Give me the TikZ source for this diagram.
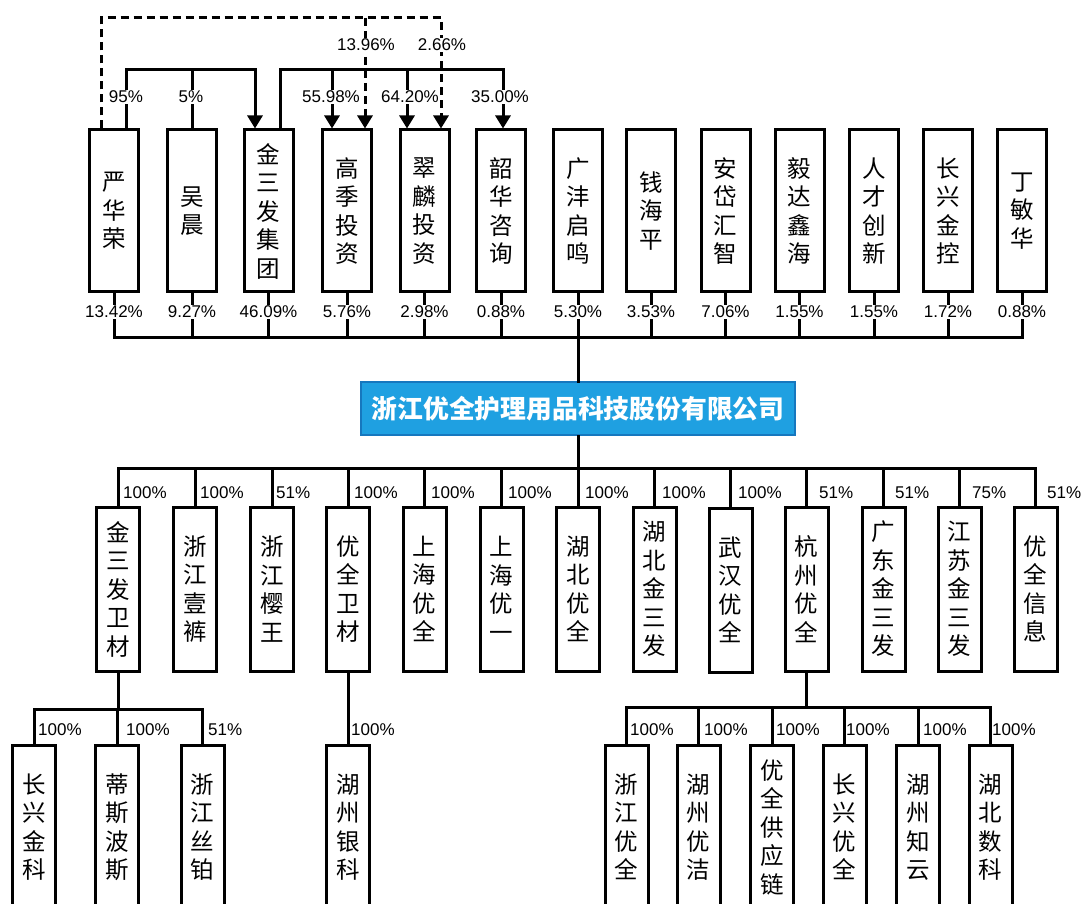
\documentclass[tikz,border=0pt]{standalone}
\usepackage{fontspec}
\setmainfont{Liberation Sans}
\newfontfamily\cjk{Noto Sans CJK SC}
\usetikzlibrary{arrows.meta}
\definecolor{mainfill}{RGB}{31,160,225}
\definecolor{mainborder}{RGB}{22,119,190}
\tikzset{
 ent/.style={draw, line width=3pt, fill=white, inner sep=0pt, align=center, font=\cjk\fontsize{23.5}{28.5}\selectfont},
 topbox/.style={ent, minimum width=49pt, minimum height=162pt},
 subbox/.style={ent, minimum width=43pt, minimum height=164pt},
 ln/.style={line width=3pt, line cap=rect},
 dln/.style={line width=3pt, dash pattern=on 8pt off 5pt, line join=miter},
 arr/.style={-{Triangle[width=15pt,length=13pt]}},
 pct/.style={font=\fontsize{17}{19}\selectfont, inner sep=1pt},
 pctw/.style={pct, fill=white},
 pctl/.style={pct, anchor=west, inner sep=0pt},
 mainbox/.style={draw=mainborder, fill=mainfill, line width=2pt, minimum width=434pt, minimum height=53pt, text=white, font=\cjk\bfseries\fontsize{25.8}{30}\selectfont, inner sep=0pt}
}
\begin{document}
\begin{tikzpicture}[x=1pt,y=-1pt]
\useasboundingbox (0,0) rectangle (1085,904);
\clip (0,0) rectangle (1085,904);
\fill[white] (0,0) rectangle (1085,904);
% top row
\node[topbox] (yhr) at (114,211) {严\\华\\荣};
\node[topbox] (wc) at (192,211) {吴\\晨};
\node[topbox] (jsf) at (268.5,211) {金\\三\\发\\集\\团};
\node[topbox] (gjtz) at (347,211) {高\\季\\投\\资};
\node[topbox] (cltz) at (424.5,211) {翠\\麟\\投\\资};
\node[topbox] (shzx) at (501,211) {韶\\华\\咨\\询};
\node[topbox] (gfqm) at (578,211) {广\\沣\\启\\鸣};
\node[topbox] (qhp) at (651,211) {钱\\海\\平};
\node[topbox] (adhz) at (725.5,211) {安\\岱\\汇\\智};
\node[topbox] (ydxh) at (799.5,211) {毅\\达\\鑫\\海};
\node[topbox] (rccx) at (874,211) {人\\才\\创\\新};
\node[topbox] (cxjkong) at (948,211) {长\\兴\\金\\控};
\node[topbox] (dmh) at (1022,211) {丁\\敏\\华};
% main
\node[mainbox] (main) at (578,408.5) {浙江优全护理用品科技股份有限公司};
% second row
\node[subbox] (jsfwc) at (118,589) {金\\三\\发\\卫\\材};
\node[subbox] (zjyk) at (195,589) {浙\\江\\壹\\裤};
\node[subbox] (zjyw) at (272,589) {浙\\江\\樱\\王};
\node[subbox] (yqwc) at (348,589) {优\\全\\卫\\材};
\node[subbox] (shyq) at (424.5,589) {上\\海\\优\\全};
\node[subbox] (shyy) at (501.5,589) {上\\海\\优\\一};
\node[subbox] (hbyq) at (578,589) {湖\\北\\优\\全};
\node[subbox] (hbjsf) at (654.5,589) {湖\\北\\金\\三\\发};
\node[subbox] (whyq) at (730.5,590) {武\\汉\\优\\全};
\node[subbox] (hzyq) at (806.5,589) {杭\\州\\优\\全};
\node[subbox] (gdjsf) at (883.5,589) {广\\东\\金\\三\\发};
\node[subbox] (jsjsf) at (959.5,589) {江\\苏\\金\\三\\发};
\node[subbox] (yqxx) at (1035.5,589) {优\\全\\信\\息};
% third row
\node[subbox] (cxjk) at (34,827) {长\\兴\\金\\科};
\node[subbox] (tsbs) at (117,827) {蒂\\斯\\波\\斯};
\node[subbox] (zjsb) at (202.5,827) {浙\\江\\丝\\铂};
\node[subbox] (hzyk) at (348,827) {湖\\州\\银\\科};
\node[subbox] (zjyq) at (626.5,827) {浙\\江\\优\\全};
\node[subbox] (hzyj) at (698.5,827) {湖\\州\\优\\洁};
\node[subbox] (yqgyl) at (772,827) {优\\全\\供\\应\\链};
\node[subbox] (cxyq) at (844.5,827) {长\\兴\\优\\全};
\node[subbox] (hzzy) at (918,827) {湖\\州\\知\\云};
\node[subbox] (hbsk) at (990.5,827) {湖\\北\\数\\科};
\coordinate (bus1) at (578,337);
\coordinate (bus2) at (578,468);
\coordinate (bus3) at (118,709);
\coordinate (bus4) at (806.5,707);
% top connectors
\draw[ln,arr] ([xshift=12pt]yhr.north) |- ([xshift=-13.5pt,yshift=58.5pt]jsf.north) -- ([xshift=-13.5pt]jsf.north);
\draw[ln] (wc.north) -- ([yshift=58.5pt]wc.north);
\draw[ln,arr] ([xshift=11.5pt]jsf.north) |- ([xshift=2pt,yshift=58.5pt]shzx.north) -- ([xshift=2pt]shzx.north);
\draw[ln,arr] ([xshift=-15pt,yshift=58.5pt]gjtz.north) -- ([xshift=-15pt]gjtz.north);
\draw[ln,arr] ([xshift=-17.5pt,yshift=58.5pt]cltz.north) -- ([xshift=-17.5pt]cltz.north);
\draw[dln,arr] ([xshift=-13pt]yhr.north) |- ([xshift=16.5pt,yshift=110.5pt]cltz.north) -- ([xshift=16.5pt]cltz.north);
\draw[dln,arr] ([xshift=18pt,yshift=110.5pt]gjtz.north) -- ([xshift=18pt]gjtz.north);
% shareholders bus
\foreach \n in {yhr,wc,jsf,gjtz,cltz,shzx,gfqm,qhp,adhz,ydxh,rccx,cxjkong,dmh}
  \draw[ln] (\n.south) -- (\n.south |- bus1);
\draw[ln] (yhr.south |- bus1) -- (dmh.south |- bus1);
\draw[ln] (main.north |- bus1) -- (main.north);
% subsidiaries bus
\draw[ln] (main.south) -- (main.south |- bus2);
\draw[ln] (jsfwc.north |- bus2) -- (yqxx.north |- bus2);
\foreach \n in {jsfwc,zjyk,zjyw,yqwc,shyq,shyy,hbyq,hbjsf,whyq,hzyq,gdjsf,jsjsf,yqxx}
  \draw[ln] (\n.north |- bus2) -- (\n.north);
% third level
\draw[ln] (jsfwc.south) -- (jsfwc.south |- bus3);
\draw[ln] (cxjk.north |- bus3) -- (zjsb.north |- bus3);
\foreach \n in {cxjk,tsbs,zjsb}
  \draw[ln] (\n.north |- bus3) -- (\n.north);
\draw[ln] (yqwc.south) -- (hzyk.north);
\draw[ln] (hzyq.south) -- (hzyq.south |- bus4);
\draw[ln] (zjyq.north |- bus4) -- (hbsk.north |- bus4);
\foreach \n in {zjyq,hzyj,yqgyl,cxyq,hzzy,hbsk}
  \draw[ln] (\n.north |- bus4) -- (\n.north);
% top labels
\node[pctw] (p95) at (126,97) {95\%};
\node[pctw] (p5) at (191,97) {5\%};
\node[pctw] (p5598) at (331,97) {55.98\%};
\node[pctw] (p6420) at (410,97) {64.20\%};
\node[pctw] (p3500) at (500,97) {35.00\%};
\node[pctw] (p1396) at (366,45) {13.96\%};
\node[pctw] (p266) at (442,45) {2.66\%};
% shareholder percentages
\node[pctw] (s1) at (114,312) {13.42\%};
\node[pctw] (s2) at (192,312) {9.27\%};
\node[pctw] (s3) at (268.5,312) {46.09\%};
\node[pctw] (s4) at (347,312) {5.76\%};
\node[pctw] (s5) at (424.5,312) {2.98\%};
\node[pctw] (s6) at (501,312) {0.88\%};
\node[pctw] (s7) at (578,312) {5.30\%};
\node[pctw] (s8) at (651,312) {3.53\%};
\node[pctw] (s9) at (725.5,312) {7.06\%};
\node[pctw] (s10) at (799.5,312) {1.55\%};
\node[pctw] (s11) at (874,312) {1.55\%};
\node[pctw] (s12) at (948,312) {1.72\%};
\node[pctw] (s13) at (1022,312) {0.88\%};
% subsidiary percentages
\node[pctl] (c1) at (123,493) {100\%};
\node[pctl] (c2) at (200,493) {100\%};
\node[pctl] (c3) at (276,493) {51\%};
\node[pctl] (c4) at (354,493) {100\%};
\node[pctl] (c5) at (431,493) {100\%};
\node[pctl] (c6) at (508,493) {100\%};
\node[pctl] (c7) at (585,493) {100\%};
\node[pctl] (c8) at (662,493) {100\%};
\node[pctl] (c9) at (738,493) {100\%};
\node[pctl] (c10) at (819,493) {51\%};
\node[pctl] (c11) at (895,493) {51\%};
\node[pctl] (c12) at (972,493) {75\%};
\node[pctl] (c13) at (1047,493) {51\%};
% third level percentages
\node[pctl] (d1) at (38,730) {100\%};
\node[pctl] (d2) at (126,730) {100\%};
\node[pctl] (d3) at (208,730) {51\%};
\node[pctl] (d4) at (351,730) {100\%};
\node[pctl] (d5) at (630,730) {100\%};
\node[pctl] (d6) at (704,730) {100\%};
\node[pctl] (d7) at (776,730) {100\%};
\node[pctl] (d8) at (846,730) {100\%};
\node[pctl] (d9) at (923,730) {100\%};
\node[pctl] (d10) at (992,730) {100\%};
\end{tikzpicture}
\end{document}
